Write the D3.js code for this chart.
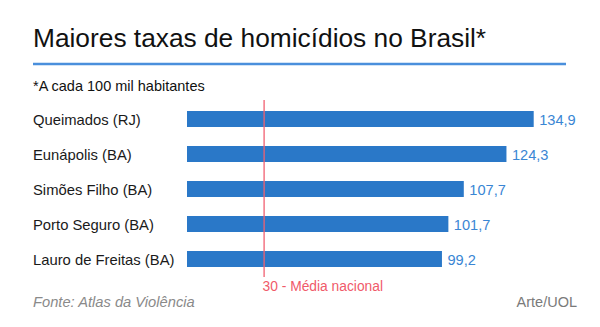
<!DOCTYPE html>
<html><head><meta charset="utf-8">
<script src="https://cdn.jsdelivr.net/npm/d3@7"></script>
<style>
html,body{margin:0;padding:0;background:#fff;}
text{font-family:"Liberation Sans",Arial,sans-serif;}
</style></head>
<body>
<svg id="c" width="600" height="327"></svg>
<script>
const categories = ["Queimados (RJ)","Eunápolis (BA)","Simões Filho (BA)","Porto Seguro (BA)","Lauro de Freitas (BA)"];
const values = [134.9,124.3,107.7,101.7,99.2];
const valueLabels = ["134,9","124,3","107,7","101,7","99,2"];
const referenceValue = [30];
const referenceLabel = ["30 - Média nacional"];
const title = "Maiores taxas de homicídios no Brasil*";
const subtitle = "*A cada 100 mil habitantes";
const source = "Fonte: Atlas da Violência";
const credit = "Arte/UOL";

const svg = d3.select("#c");
const x = d3.scaleLinear().domain([0, 134.9]).range([187, 533.7]);
const y = d3.scaleBand().domain(categories).range([101.5, 276.5])
  .paddingInner(19/35).paddingOuter(19/70);

svg.append("text").attr("x",33).attr("y",46.5).attr("font-size",26.3)
  .attr("fill","#111").text(title);
svg.append("line").attr("x1",33).attr("x2",566).attr("y1",64).attr("y2",64)
  .attr("stroke","#4a8fdc").attr("stroke-width",2.5);
svg.append("text").attr("x",33).attr("y",91).attr("font-size",14.5)
  .attr("fill","#111").text(subtitle);

const rows = categories.map((c,i)=>({c, v:values[i], l:valueLabels[i]}));

svg.selectAll("rect.bar").data(rows).join("rect").attr("class","bar")
  .attr("x", x(0)).attr("y", d=>y(d.c))
  .attr("width", d=>x(d.v)-x(0)).attr("height", y.bandwidth())
  .attr("fill","#2a78c8");

svg.selectAll("text.cat").data(rows).join("text").attr("class","cat")
  .attr("x",33).attr("y", d=>y(d.c)+y.bandwidth()/2+5.5)
  .attr("font-size",14.8).attr("fill","#1a1a1a").text(d=>d.c);

svg.selectAll("text.val").data(rows).join("text").attr("class","val")
  .attr("x", d=>x(d.v)+5.5).attr("y", d=>y(d.c)+y.bandwidth()/2+5.5)
  .attr("font-size",14.6).attr("fill","#3a86d4").text(d=>d.l);

svg.append("line").attr("x1",x(referenceValue[0])).attr("x2",x(referenceValue[0]))
  .attr("y1",100).attr("y2",277).attr("stroke","#f06070").attr("stroke-width",1.3);
svg.append("text").attr("x",x(referenceValue[0])-1.5).attr("y",290.5)
  .attr("font-size",13.8).attr("fill","#f05a6a").text(referenceLabel[0]);

svg.append("text").attr("x",33).attr("y",306.5).attr("font-size",14.7)
  .attr("font-style","italic").attr("fill","#8a8a8a").text(source);
svg.append("text").attr("x",577).attr("y",306.5).attr("text-anchor","end")
  .attr("font-size",14.5).attr("fill","#7a7a7a").text(credit);
</script>
</body></html>
